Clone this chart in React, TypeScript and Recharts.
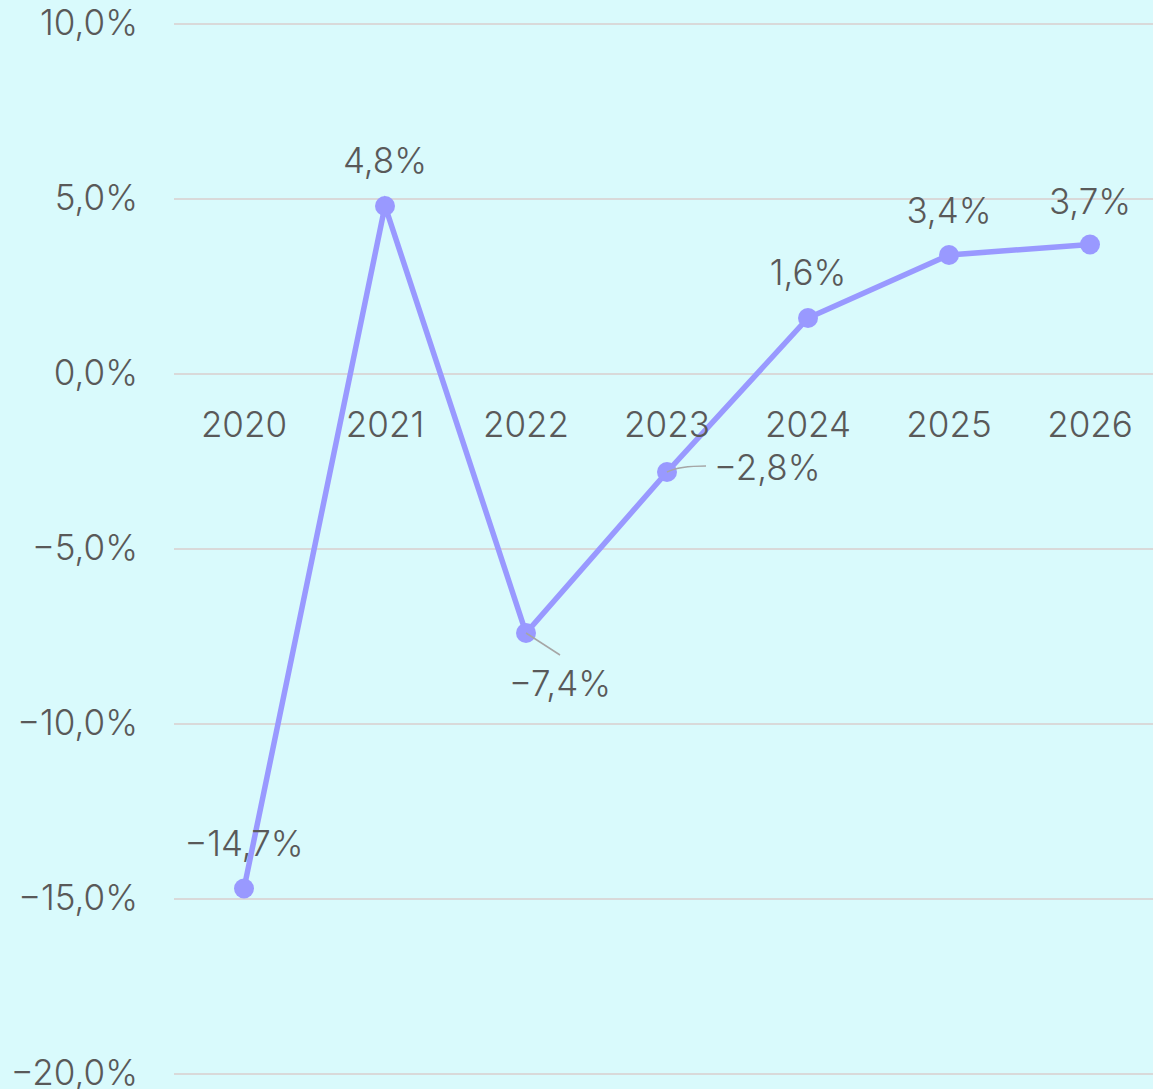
import React from 'react';
import { LineChart, Line, XAxis, YAxis, CartesianGrid, LabelList, ReferenceDot } from 'recharts';

const years = ['2020', '2021', '2022', '2023', '2024', '2025', '2026'];
const growth = [-14.7, 4.8, -7.4, -2.8, 1.6, 3.4, 3.7];
const yTicks = [10, 5, 0, -5, -10, -15, -20];

const data = years.map((year, i) => ({ year, growth: growth[i] }));

const TEXT = '#595959';
const FONT = 'Inter, "Open Sans", sans-serif';
const FS = 35;
const FW = 300;

const fmt = (v: number) => (v < 0 ? '\u2212' : '') + Math.abs(v).toFixed(1).replace('.', ',') + '%';

// label placement per point (style config)
const placement = [
  { dx: 0, dy: -46, anchor: 'middle', leader: null },
  { dx: 0, dy: -46, anchor: 'middle', leader: null },
  { dx: 34, dy: 50, anchor: 'middle', leader: 'down' },
  { dx: 47, dy: -5, anchor: 'start', leader: 'right' },
  { dx: 0, dy: -46, anchor: 'middle', leader: null },
  { dx: 0, dy: -45, anchor: 'middle', leader: null },
  { dx: 0, dy: -44, anchor: 'middle', leader: null },
];

const PointLabel = (props: any) => {
  const { x, y, value, index } = props;
  const p = placement[index];
  let leader = null;
  if (p.leader === 'down') {
    leader = <line x1={x} y1={y} x2={x + 34} y2={y + 22} stroke="#a6a6a6" strokeWidth={1.5} />;
  } else if (p.leader === 'right') {
    leader = (
      <path d={`M${x},${y} Q${x + 12},${y - 6} ${x + 39},${y - 6}`} fill="none" stroke="#a6a6a6" strokeWidth={1.5} />
    );
  }
  return (
    <g>
      {leader}
      <text
        x={x + p.dx}
        y={y + p.dy}
        textAnchor={p.anchor}
        dominantBaseline="central"
        fill={TEXT}
        fontSize={FS}
        fontWeight={FW}
        fontFamily={FONT}
      >
        {fmt(value)}
      </text>
    </g>
  );
};

const CategoryLabel = (props: any) => {
  const { viewBox, value } = props;
  const cx = viewBox.x + (viewBox.width || 0) / 2;
  const cy = viewBox.y + (viewBox.height || 0) / 2;
  return (
    <text
      x={cx}
      y={cy + 50}
      textAnchor="middle"
      dominantBaseline="central"
      fill={TEXT}
      fontSize={FS}
      fontWeight={FW}
      fontFamily={FONT}
    >
      {value}
    </text>
  );
};

const YTick = (props: any) => {
  const { x, y, payload } = props;
  return (
    <text
      x={x + 3}
      y={y - 2}
      textAnchor="end"
      dominantBaseline="central"
      fill={TEXT}
      fontSize={FS}
      fontWeight={FW}
      fontFamily={FONT}
    >
      {fmt(payload.value)}
    </text>
  );
};

export default function App() {
  return (
    <div
      style={{
        position: 'absolute',
        left: 0,
        top: 0,
        width: 1153,
        height: 1089,
        background: '#d9fafc',
        overflow: 'hidden',
      }}
    >
      <LineChart width={1160} height={1089} data={data} margin={{ top: 24, right: 0, bottom: 15, left: 0 }}>
        <CartesianGrid vertical={false} stroke="#d9d9d9" strokeWidth={2} />
        <XAxis dataKey="year" type="category" scale="point" padding={{ left: 70, right: 70 }} hide />
        <YAxis
          type="number"
          domain={[-20, 10]}
          ticks={yTicks}
          width={174}
          axisLine={false}
          tickLine={false}
          tickMargin={33}
          tick={<YTick />}
        />
        {years.map((yr) => (
          <ReferenceDot
            key={yr}
            x={yr}
            y={0}
            r={0}
            fill="none"
            stroke="none"
            label={(p: any) => <CategoryLabel {...p} value={yr} />}
          />
        ))}
        <Line
          type="linear"
          dataKey="growth"
          stroke="#9999ff"
          strokeWidth={5.5}
          dot={{ r: 10, fill: '#9999ff', stroke: 'none' }}
          activeDot={false}
          isAnimationActive={false}
        >
          <LabelList dataKey="growth" content={PointLabel} />
        </Line>
      </LineChart>
    </div>
  );
}
